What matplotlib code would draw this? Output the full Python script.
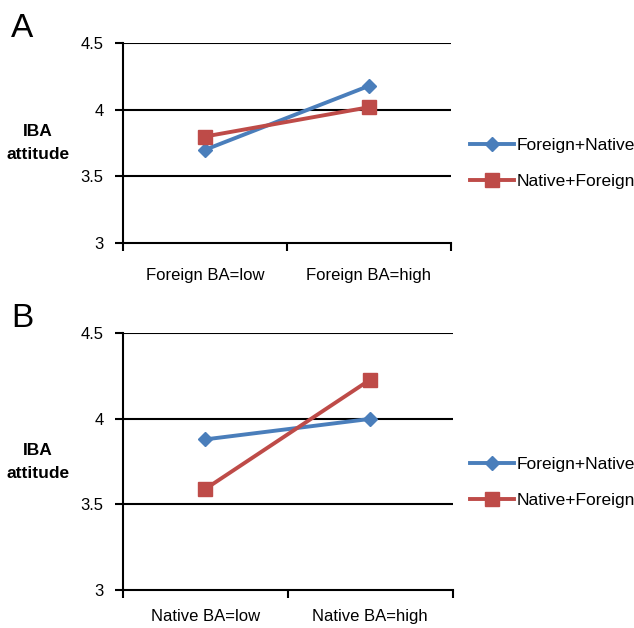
import matplotlib
matplotlib.use("Agg")
import matplotlib.pyplot as plt

plt.rcParams['font.family'] = ['Liberation Sans', 'DejaVu Sans']

series_names = ["Foreign+Native", "Native+Foreign"]
cats_a = ["Foreign BA=low", "Foreign BA=high"]
cats_b = ["Native BA=low", "Native BA=high"]
a_foreign_native = [3.70, 4.18]
a_native_foreign = [3.80, 4.02]
b_foreign_native = [3.88, 4.00]
b_native_foreign = [3.59, 4.23]
yticks = [3, 3.5, 4, 4.5]
ytick_labels = ["3", "3.5", "4", "4.5"]

BLUE = "#4A7EBB"
RED = "#BE4B48"

fig = plt.figure(figsize=(6.34, 6.28), dpi=100)

def panel(rect, cats, fn, nf, letter, letter_y, ylab_y, leg_y, xpad):
    ax = fig.add_axes(rect)
    xs = [0.5, 1.5]
    ax.plot(xs, fn, color=BLUE, lw=2.8, marker="D", ms=7.5, label=series_names[0], zorder=3)
    ax.plot(xs, nf, color=RED, lw=2.8, marker="s", ms=10, label=series_names[1], zorder=3)
    ax.set_xlim(0, 2)
    ax.set_ylim(3, 4.5)
    for y in yticks[1:]:
        ax.axhline(y, color="black", lw=1.5, zorder=1)
    ax.set_yticks(yticks)
    ax.set_yticklabels(ytick_labels, fontsize=12)
    ax.set_xticks([0, 1, 2])
    ax.set_xticklabels([])
    ax.set_xticks(xs, minor=True)
    ax.set_xticklabels(cats, minor=True, fontsize=12)
    ax.tick_params(axis="x", which="minor", length=0, pad=xpad)
    ax.tick_params(axis="x", which="major", length=6, width=1.5, direction="out")
    ax.tick_params(axis="y", length=6, width=1.5, direction="out", pad=8)
    for s in ["top", "right"]:
        ax.spines[s].set_visible(False)
    ax.spines["left"].set_linewidth(1.5)
    ax.spines["bottom"].set_linewidth(1.5)
    ax.legend(loc="center left", bbox_to_anchor=(0.742, leg_y),
              bbox_transform=fig.transFigure, frameon=False,
              fontsize=12.5, handlelength=2.5, handletextpad=0.15, labelspacing=1.2,
              borderaxespad=0, borderpad=0)
    fig.text(0.018, letter_y, letter, fontsize=24, va="center", ha="left")
    fig.text(0.06, ylab_y, "IBA\nattitude", fontsize=12.5, fontweight="bold",
             ha="center", va="center", linespacing=1.7)
    return ax

panel([0.194, 0.613, 0.517, 0.318], cats_a, a_foreign_native, a_native_foreign,
      "A", 0.955, 0.772, 0.739, 18)
panel([0.194, 0.061, 0.520, 0.408], cats_b, b_foreign_native, b_native_foreign,
      "B", 0.493, 0.264, 0.232, 14)

fig.savefig("out.png", dpi=100)
